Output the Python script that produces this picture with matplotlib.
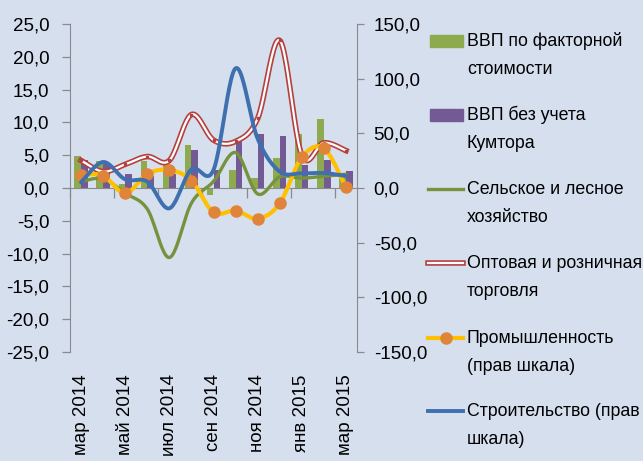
import numpy as np
import matplotlib
matplotlib.use('Agg')
import matplotlib.pyplot as plt
import matplotlib.transforms as mtransforms
from matplotlib import font_manager
from matplotlib.patches import Rectangle

# data (growth rates, %)
months = ['мар 2014', 'апр 2014', 'май 2014', 'июн 2014', 'июл 2014', 'авг 2014', 'сен 2014',
          'окт 2014', 'ноя 2014', 'дек 2014', 'янв 2015', 'фев 2015', 'мар 2015']
gdp_factor = [4.9, 4.1, 0.6, 4.1, 4.1, 6.6, -1.1, 2.7, 1.6, 4.6, 8.2, 10.5, 2.2]
gdp_no_kumtor = [4.2, 3.6, 2.2, 1.9, 2.1, 5.8, 2.7, 7.5, 8.2, 7.9, 3.5, 4.3, 2.6]
agri = [1.0, 1.4, -0.8, -3.2, -10.6, -2.3, 1.0, 5.4, -0.9, 1.7, 1.5, 1.8, 2.1]
trade = [4.2, 2.5, 3.6, 4.8, 4.2, 11.2, 7.3, 7.1, 10.6, 22.5, 5.0, 6.9, 5.7]
industry = [11.9, 11.3, -4.9, 12.8, 16.5, 6.7, -22.3, -20.7, -28.1, -14.0, 28.1, 36.3, 0.6]
construction = [5.2, 23.8, 7.9, 5.8, -18.6, 17.1, 16.5, 109.5, 45.0, 15.0, 13.4, 13.7, 11.0]

legend_labels = [['ВВП по факторной', 'стоимости'],
                 ['ВВП без учета', 'Кумтора'],
                 ['Сельское и лесное', 'хозяйство'],
                 ['Оптовая и розничная', 'торговля'],
                 ['Промышленность', '(прав шкала)'],
                 ['Строительство (прав', 'шкала)']]

fams = [f.name for f in font_manager.fontManager.ttflist]
font = 'Liberation Sans Narrow' if 'Liberation Sans Narrow' in fams else 'Liberation Sans'
plt.rcParams['font.family'] = [font, 'DejaVu Sans']

bg = '#D5DFEE'
c_green_bar = '#8DAA4F'
c_purple = '#735A94'
c_green_line = '#76923C'
c_red = '#B5403D'
c_yellow = '#FFC000'
c_orange = '#E0843A'
c_blue = '#3E6FAE'
c_axis = '#8A8A8A'
fs = 13.5
fs_leg = 12.8


def smooth(y, n=24):
    # excel-like smoothed line (catmull-rom bezier)
    y = np.asarray(y, float)
    x = np.arange(len(y), dtype=float)
    P = np.column_stack([x, y])
    Pe = np.vstack([P[0], P, P[-1]])
    out = []
    for i in range(len(P) - 1):
        p0, p1, p2, p3 = Pe[i], Pe[i + 1], Pe[i + 2], Pe[i + 3]
        c1 = p1 + (p2 - p0) / 6
        c2 = p2 - (p3 - p1) / 6
        t = np.linspace(0, 1, n, endpoint=(i == len(P) - 2))[:, None]
        out.append((1 - t) ** 3 * p1 + 3 * (1 - t) ** 2 * t * c1 + 3 * (1 - t) * t ** 2 * c2 + t ** 3 * p2)
    out = np.vstack(out)
    return out[:, 0], out[:, 1]


fig = plt.figure(figsize=(6.43, 4.61), dpi=100)
fig.patch.set_facecolor(bg)
ax = fig.add_axes([70 / 643, 1 - 352 / 461, 287 / 643, 328 / 461])
ax.set_facecolor(bg)
ax2 = ax.twinx()

x = np.arange(len(months))
w = 0.3
ax.bar(x - w / 2, gdp_factor, w, color=c_green_bar, zorder=2)
ax.bar(x + w / 2, gdp_no_kumtor, w, color=c_purple, zorder=2)

sx, sy = smooth(agri)
ax.plot(sx, sy, color=c_green_line, lw=2.4, zorder=3, solid_capstyle='round')
sx, sy = smooth(trade)
ax.plot(sx, sy, color=c_red, lw=4.0, zorder=4)
ax.plot(sx, sy, color='white', lw=1.6, zorder=4)
ax.plot(x, trade, 's', color=c_red, ms=1.8, zorder=4)

sx, sy = smooth(industry)
ax2.plot(sx, sy, color=c_yellow, lw=3.0, zorder=3, solid_capstyle='round')
ax2.plot(x, industry, 'o', color=c_orange, ms=8, zorder=4)
sx, sy = smooth(construction)
ax2.plot(sx, sy, color=c_blue, lw=2.8, zorder=5, solid_capstyle='round')

ax.set_xlim(-0.5, len(months) - 0.5)
ax.set_ylim(-25, 25)
ax2.set_ylim(-150, 150)

lt = np.arange(-25, 26, 5)
ax.set_yticks(lt)
ax.set_yticklabels([f'{v:.1f}'.replace('.', ',') for v in lt], fontsize=fs)
rt = np.arange(-150, 151, 50)
ax2.set_yticks(rt)
ax2.set_yticklabels([f'{v:.1f}'.replace('.', ',') for v in rt], fontsize=fs)

ax.set_xticks(np.arange(-0.5, len(months) - 1, 2))
ax.set_xticklabels([])
ax.tick_params(axis='x', direction='out', length=7, width=0.9, color=c_axis)
ax.tick_params(axis='y', direction='out', length=6, width=0.9, color=c_axis, pad=9)
ax2.tick_params(axis='y', direction='out', length=5, width=0.9, color=c_axis, pad=7)

for a in (ax, ax2):
    for s in a.spines.values():
        s.set_visible(False)
ax.spines['left'].set_visible(True)
ax.spines['left'].set_color(c_axis)
ax.spines['bottom'].set_visible(True)
ax.spines['bottom'].set_position(('data', 0))
ax.spines['bottom'].set_color(c_axis)
ax.spines['bottom'].set_zorder(2.5)
ax2.spines['right'].set_visible(True)
ax2.spines['right'].set_color(c_axis)

# month labels, every second month
trans = mtransforms.blended_transform_factory(ax.transData, ax.transAxes)
for i in range(0, len(months), 2):
    ax.text(i, -0.068, months[i], rotation=90, ha='center', va='top', fontsize=fs,
            transform=trans, clip_on=False)

# legend, drawn by hand on a pixel overlay
lax = fig.add_axes([0, 0, 1, 1], zorder=10)
lax.set_xlim(0, 643)
lax.set_ylim(461, 0)
lax.axis('off')
rows = [41, 115, 189, 263, 338, 411]
for k, (y0, lines) in enumerate(zip(rows, legend_labels)):
    lax.text(467, y0, lines[0], fontsize=fs_leg, va='center', ha='left')
    lax.text(467, y0 + 28, lines[1], fontsize=fs_leg, va='center', ha='left')
lax.add_patch(Rectangle((430, rows[0] - 6), 33, 12, color=c_green_bar))
lax.add_patch(Rectangle((430, rows[1] - 6), 33, 12, color=c_purple))
lax.plot([428, 463], [rows[2], rows[2]], color=c_green_line, lw=2.4)
lax.plot([428, 463], [rows[3], rows[3]], color=c_red, lw=4.0)
lax.plot([428, 463], [rows[3], rows[3]], color='white', lw=1.6)
lax.plot([428, 463], [rows[4], rows[4]], color=c_yellow, lw=3.0)
lax.plot([446], [rows[4]], 'o', color=c_orange, ms=8)
lax.plot([428, 463], [rows[5], rows[5]], color=c_blue, lw=2.8)

fig.savefig('out.png', dpi=100, facecolor=bg)
